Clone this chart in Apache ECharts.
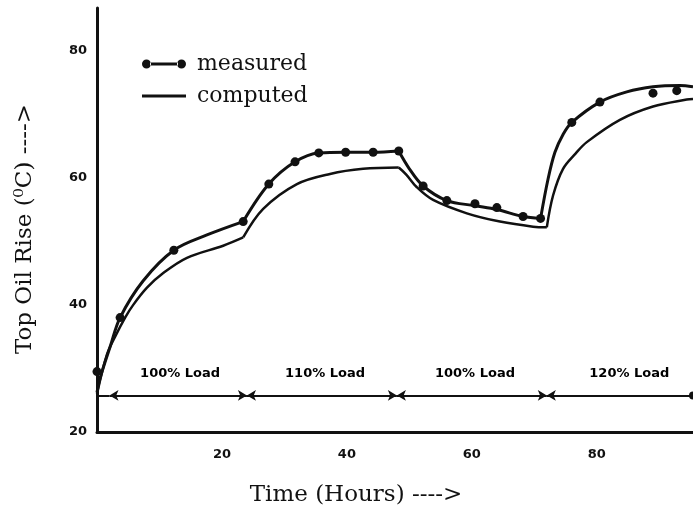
<!DOCTYPE html>
<html>
<head>
<meta charset="utf-8">
<script src="https://cdn.jsdelivr.net/npm/echarts@6/dist/echarts.min.js"></script>
<style>
  html, body { margin: 0; padding: 0; background: #fff; }
  #chart { width: 693px; height: 512px; }
</style>
</head>
<body>
<div id="chart"></div>
<script>
// measured dots
const measuredHours = [0, 3.7, 12.3, 23.4, 27.5, 31.7, 35.5, 39.8, 44.2, 48.3, 52.2, 56.0, 60.5, 64.0, 68.2, 71.0, 76.0, 80.5, 89.0, 92.8]
const measuredRise = [29.5, 38.0, 48.6, 53.1, 59.0, 62.5, 63.9, 64.0, 64.0, 64.2, 58.7, 56.4, 55.9, 55.3, 53.9, 53.6, 68.7, 71.9, 73.3, 73.7]

// measured curve, one piece per load step [hours, rise]
const measuredCurve1 = [[0, 26.2], [0.5, 28.5], [2.1, 33.4], [3.7, 38.0], [7.4, 43.8], [12.3, 48.6], [17.6, 51.0], [23.4, 53.1]]
const measuredCurve2 = [[23.4, 53.1], [27.5, 59.0], [31.7, 62.5], [35.5, 63.9], [39.8, 64.0], [44.2, 64.0], [48.3, 64.2]]
const measuredCurve3 = [[48.3, 64.2], [50.0, 61.4], [52.2, 58.7], [56.0, 56.4], [60.5, 55.6], [64.0, 55.0], [68.2, 53.9], [71.0, 53.6]]
const measuredCurve4 = [[71.0, 53.6], [72.2, 59.8], [73.3, 64.0], [74.6, 66.8], [76.0, 68.7], [80.5, 71.9], [84.8, 73.5], [89.0, 74.3], [93.3, 74.5], [95.4, 74.3]]

// computed curve
const computedCurve1 = [[0, 26.0], [1.6, 32.2], [2.9, 35.0], [4.5, 38.0], [5.8, 40.0], [8.0, 42.7], [10.6, 45.0], [14.4, 47.4], [20.2, 49.3], [23.4, 50.6]]
const computedCurve2 = [[23.4, 50.6], [26.6, 55.1], [32.0, 59.0], [37.3, 60.6], [42.6, 61.4], [48.3, 61.6]]
const computedCurve3 = [[48.3, 61.6], [49.5, 60.5], [51.2, 58.5], [53.8, 56.5], [59.2, 54.4], [64.5, 53.1], [69.8, 52.3], [72.0, 52.2]]
const computedCurve4 = [[72.0, 52.2], [73.0, 57.2], [74.6, 61.4], [76.6, 63.8], [78.4, 65.6], [83.7, 69.1], [89.0, 71.2], [94.4, 72.3], [95.4, 72.4]]

// load steps
const loadBreaks = [0, 24, 48, 72, 95.4]
const loadLabels = ['100% Load', '110% Load', '100% Load', '120% Load']
const loadLabelHours = [13.3, 36.5, 60.5, 85.2]
const loadLabelRise = 29.2
const loadArrowRise = 25.75

const ink = '#111'
const chart = echarts.init(document.getElementById('chart'))

function curve(name, data, width) {
  return {
    name: name,
    type: 'line',
    data: data,
    smooth: 0.35,
    showSymbol: false,
    lineStyle: { color: ink, width: width },
    itemStyle: { color: ink },
    z: 3
  }
}

const arrows = [[{ coord: [0, loadArrowRise], symbol: 'none' }, { coord: [2, loadArrowRise], symbol: 'none' }]]
for (let i = 0; i < 4; i++) {
  const a = i === 0 ? 2 : loadBreaks[i]
  arrows.push([
    { coord: [a, loadArrowRise], symbol: 'arrow' },
    { coord: [loadBreaks[i + 1], loadArrowRise], symbol: i === 3 ? 'circle' : 'arrow' }
  ])
}

const dotLine = 'path://M0,5a4.5,4.5 0 1,0 9,0a4.5,4.5 0 1,0 -9,0M8,3.6L36,3.6L36,6.4L8,6.4ZM35,5a4.5,4.5 0 1,0 9,0a4.5,4.5 0 1,0 -9,0'
const dash = 'path://M0,0L44,0L44,3L0,3Z'

const option = {
  animation: false,
  backgroundColor: '#fff',
  legend: {
    left: 137,
    top: 48,
    orient: 'vertical',
    itemWidth: 44,
    itemHeight: 10,
    itemGap: 10,
    symbolKeepAspect: true,
    data: [
      { name: 'measured', icon: dotLine },
      { name: 'computed', icon: dash }
    ],
    textStyle: { fontFamily: 'DejaVu Serif', fontSize: 22, color: ink, padding: [0, 0, 0, 6] }
  },
  grid: { left: 97, right: 0, top: 8, bottom: 75 },
  xAxis: {
    type: 'value',
    min: 0,
    max: 95.4,
    interval: 20,
    name: 'Time (Hours) ---->',
    nameLocation: 'middle',
    nameGap: 52,
    nameTextStyle: { fontFamily: 'DejaVu Serif', fontSize: 23, color: ink, padding: [0, 78, 0, 0] },
    axisLine: { lineStyle: { color: ink, width: 3 } },
    axisTick: { show: false },
    splitLine: { show: false },
    axisLabel: { showMinLabel: false, showMaxLabel: false, margin: 16, color: ink, fontFamily: 'DejaVu Sans', fontWeight: 'bold', fontSize: 13 }
  },
  yAxis: {
    type: 'value',
    min: 20,
    max: 86.7,
    interval: 20,
    name: 'Top Oil Rise (\u2070C) ---->',
    nameLocation: 'middle',
    nameRotate: 90,
    nameGap: 60,
    nameTextStyle: { fontFamily: 'DejaVu Serif', fontSize: 23, color: ink, padding: [0, 18, 0, 0] },
    axisLine: { lineStyle: { color: ink, width: 3 } },
    axisTick: { show: false },
    splitLine: { show: false },
    axisLabel: { showMaxLabel: false, margin: 10, color: ink, fontFamily: 'DejaVu Sans', fontWeight: 'bold', fontSize: 13 }
  },
  series: [
    curve('measured', measuredCurve1, 3),
    curve('measured', measuredCurve2, 3),
    curve('measured', measuredCurve3, 3),
    curve('measured', measuredCurve4, 3),
    {
      name: 'measured',
      type: 'scatter',
      data: measuredHours.map((h, i) => [h, measuredRise[i]]),
      symbolSize: 9,
      itemStyle: { color: ink, opacity: 1 },
      z: 4
    },
    curve('computed', computedCurve1, 2.5),
    curve('computed', computedCurve2, 2.5),
    curve('computed', computedCurve3, 2.5),
    curve('computed', computedCurve4, 2.5),
    {
      name: 'loads',
      type: 'scatter',
      data: loadLabelHours.map((h, i) => ({ value: [h, loadLabelRise], label: { formatter: loadLabels[i] } })),
      symbolSize: 0,
      itemStyle: { opacity: 1 },
      label: { show: true, position: 'inside', color: '#000', opacity: 1, fontFamily: 'DejaVu Sans', fontWeight: 'bold', fontSize: 13 },
      markLine: {
        silent: true,
        symbolSize: [8, 9],
        label: { show: false },
        lineStyle: { color: ink, width: 2, type: 'solid' },
        data: arrows
      }
    }
  ]
}
chart.setOption(option)
</script>
</body>
</html>
